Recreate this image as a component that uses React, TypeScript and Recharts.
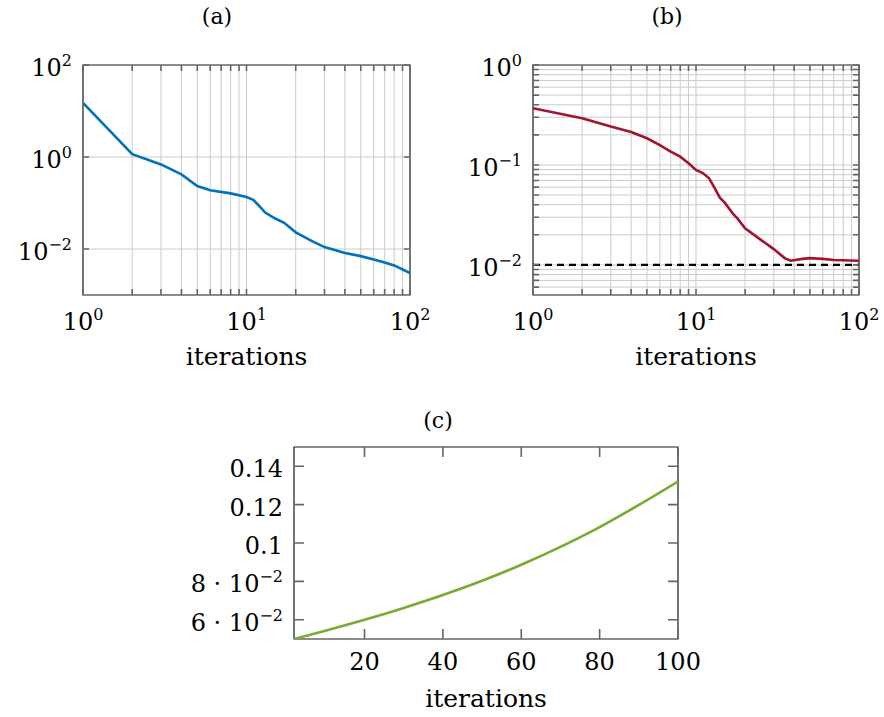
import { LineChart, Line, XAxis, YAxis, ReferenceLine, ReferenceArea } from 'recharts'

const FONT = '"DejaVu Serif", serif'
const FRAME = '#1a1a1a'
const TICK = '#666'
const GRID = '#cbcbcb'

// (a) error per iteration
const aIter = [1, 2, 3, 4, 5, 6, 8, 10, 11, 12, 13, 15, 17, 20, 25, 30, 40, 50, 60, 70, 80, 100]
const aVal = [15, 1.15, 0.69, 0.42, 0.234, 0.19, 0.162, 0.135, 0.117, 0.085, 0.062, 0.046, 0.037, 0.023, 0.015, 0.011, 0.0082, 0.007, 0.0059, 0.0051, 0.0044, 0.003]

// (b) relative residual, with target level
const bIter = [1, 2, 3, 4, 5, 6, 7, 8, 9, 10, 11, 12, 13, 14, 15, 17, 18, 20, 25, 30, 35, 38, 45, 50, 60, 70, 100]
const bVal = [0.369, 0.293, 0.242, 0.214, 0.185, 0.158, 0.136, 0.121, 0.104, 0.089, 0.083, 0.074, 0.059, 0.047, 0.042, 0.032, 0.029, 0.0233, 0.0178, 0.0144, 0.0117, 0.011, 0.0115, 0.0117, 0.0115, 0.0112, 0.011]
const bTarget = 0.01

// (c) step size
const cIter = [2, 10, 20, 30, 40, 50, 60, 70, 80, 90, 100]
const cVal = [0.05, 0.0543, 0.06, 0.0662, 0.0729, 0.0803, 0.0887, 0.098, 0.1083, 0.1198, 0.132]

// domains, ticks and grid
const logXDomain = [1, 100]
const aYDomain = [0.001, 100]
const bYDomain = [0.005, 1]
const cXDomain = [2, 100]
const cYDomain = [0.05, 0.15]
const logXTicks = [1, 2, 3, 4, 5, 6, 7, 8, 9, 10, 20, 30, 40, 50, 60, 70, 80, 90, 100]
const logXGrid = [2, 3, 4, 5, 6, 7, 8, 9, 10, 20, 30, 40, 50, 60, 70, 80, 90]
const logXLabelled = [1, 10, 100]
const aYTicks = [100, 1, 0.01]
const aYGrid = [1, 0.01]
const bYTicks = [1, 0.9, 0.8, 0.7, 0.6, 0.5, 0.4, 0.3, 0.2, 0.1, 0.09, 0.08, 0.07, 0.06, 0.05, 0.04, 0.03, 0.02, 0.01, 0.009, 0.008, 0.007, 0.006]
const bYLabelled = [1, 0.1, 0.01]
const cXTicks = [20, 40, 60, 80, 100]
const cYTicks = [0.06, 0.08, 0.1, 0.12, 0.14]
const cYLabels: [string, string][] = [['6 · 10', '−2'], ['8 · 10', '−2'], ['0.1', ''], ['0.12', ''], ['0.14', '']]

// plot boxes inside each chart svg
type Box = { w: number; h: number; left: number; right: number; top: number; bottom: number }
const boxA: Box = { w: 442, h: 380, left: 83, right: 410, top: 65, bottom: 295 }
const boxB: Box = { w: 442, h: 380, left: 91, right: 417, top: 65, bottom: 295 }
const boxC: Box = { w: 584, h: 327, left: 144, right: 528, top: 57, bottom: 249 }
const Y_W = 60
const X_H = 75
const marginOf = (b: Box) => ({ top: b.top, right: b.w - b.right, bottom: b.h - b.bottom - X_H, left: b.left - Y_W })

const pow10 = (v: number): [string, string] => ['10', String(Math.round(Math.log10(v))).replace('-', '−')]

function Label2({ x, y, anchor, parts }: any) {
  return (
    <text x={x} y={y} textAnchor={anchor} fontFamily={FONT} fontSize={24} fill="#000">
      {parts[0]}
      {parts[1] && <tspan dy={-10} fontSize={16}>{parts[1]}</tspan>}
    </text>
  )
}

// tick marks point inwards on both opposite sides, label only on the outer one
function XTick({ x, payload, box, labels, len, fmt, drop }: any) {
  const v = payload.value
  return (
    <g>
      <path d={`M${x},${box.bottom}V${box.bottom - len}M${x},${box.top}V${box.top + len}`} stroke={TICK} strokeWidth={1.6} fill="none" />
      {labels.includes(v) && <Label2 x={x} y={box.bottom + drop} anchor="middle" parts={fmt(v)} />}
    </g>
  )
}

function YTick({ y, payload, box, labels, len, fmt }: any) {
  const v = payload.value
  return (
    <g>
      <path d={`M${box.left},${y}H${box.left + len}M${box.right},${y}H${box.right - len}`} stroke={TICK} strokeWidth={1.6} fill="none" />
      {labels.includes(v) && <Label2 x={box.left - 11} y={y + 11} anchor="end" parts={fmt(v)} />}
    </g>
  )
}

const xLabel = (offset: number) => ({ value: 'iterations', position: 'insideBottom', offset, fill: '#000', fontSize: 25, fontFamily: FONT })

function ChartA() {
  const data = aIter.map((x, i) => ({ x, v: aVal[i] }))
  return (
    <LineChart width={boxA.w} height={boxA.h} data={data} margin={marginOf(boxA)}>
      {logXGrid.map(t => <ReferenceLine key={'x' + t} x={t} stroke={GRID} />)}
      {aYGrid.map(t => <ReferenceLine key={'y' + t} y={t} stroke={GRID} />)}
      <XAxis dataKey="x" type="number" scale="log" domain={logXDomain} allowDataOverflow ticks={logXTicks} interval={0}
        height={X_H} tickLine={false} axisLine={false} label={xLabel(5)}
        tick={(p: any) => <XTick {...p} box={boxA} labels={logXLabelled} len={6} fmt={pow10} drop={35} />} />
      <YAxis dataKey="v" type="number" scale="log" domain={aYDomain} allowDataOverflow ticks={aYTicks} interval={0}
        width={Y_W} tickLine={false} axisLine={false}
        tick={(p: any) => <YTick {...p} box={boxA} labels={aYTicks} len={6} fmt={pow10} />} />
      <Line dataKey="v" type="linear" stroke="#0072BD" strokeWidth={2.6} dot={false} isAnimationActive={false} />
      <ReferenceArea x1={logXDomain[0]} x2={logXDomain[1]} y1={aYDomain[0]} y2={aYDomain[1]} fill="none" fillOpacity={0} stroke={FRAME} strokeWidth={1.2} ifOverflow="visible" />
    </LineChart>
  )
}

function ChartB() {
  const data = bIter.map((x, i) => ({ x, v: bVal[i] }))
  return (
    <LineChart width={boxB.w} height={boxB.h} data={data} margin={marginOf(boxB)}>
      {logXGrid.map(t => <ReferenceLine key={'x' + t} x={t} stroke={GRID} />)}
      {bYTicks.slice(1).map(t => <ReferenceLine key={'y' + t} y={t} stroke={GRID} />)}
      <ReferenceLine y={bTarget} stroke="#000" strokeWidth={2.2} strokeDasharray="7 5" />
      <XAxis dataKey="x" type="number" scale="log" domain={logXDomain} allowDataOverflow ticks={logXTicks} interval={0}
        height={X_H} tickLine={false} axisLine={false} label={xLabel(5)}
        tick={(p: any) => <XTick {...p} box={boxB} labels={logXLabelled} len={6} fmt={pow10} drop={35} />} />
      <YAxis dataKey="v" type="number" scale="log" domain={bYDomain} allowDataOverflow ticks={bYTicks} interval={0}
        width={Y_W} tickLine={false} axisLine={false}
        tick={(p: any) => <YTick {...p} box={boxB} labels={bYLabelled} len={6} fmt={pow10} />} />
      <Line dataKey="v" type="linear" stroke="#A2142F" strokeWidth={2.6} dot={false} isAnimationActive={false} />
      <ReferenceArea x1={logXDomain[0]} x2={logXDomain[1]} y1={bYDomain[0]} y2={bYDomain[1]} fill="none" fillOpacity={0} stroke={FRAME} strokeWidth={1.2} ifOverflow="visible" />
    </LineChart>
  )
}

function ChartC() {
  const data = cIter.map((x, i) => ({ x, v: cVal[i] }))
  const fmtC = (v: number) => cYLabels[cYTicks.indexOf(v)]
  const fmtX = (v: number): [string, string] => [String(v), '']
  return (
    <LineChart width={boxC.w} height={boxC.h} data={data} margin={marginOf(boxC)}>
      <XAxis dataKey="x" type="number" domain={cXDomain} allowDataOverflow ticks={cXTicks} interval={0}
        height={X_H} tickLine={false} axisLine={false} label={xLabel(7)}
        tick={(p: any) => <XTick {...p} box={boxC} labels={cXTicks} len={10} fmt={fmtX} drop={31} />} />
      <YAxis dataKey="v" type="number" domain={cYDomain} allowDataOverflow ticks={cYTicks} interval={0}
        width={Y_W} tickLine={false} axisLine={false}
        tick={(p: any) => <YTick {...p} box={boxC} labels={cYTicks} len={10} fmt={fmtC} />} />
      <Line dataKey="v" type="monotone" stroke="#77AC30" strokeWidth={2.6} dot={false} isAnimationActive={false} />
      <ReferenceArea x1={cXDomain[0]} x2={cXDomain[1]} y1={cYDomain[0]} y2={cYDomain[1]} fill="none" fillOpacity={0} stroke={FRAME} strokeWidth={1.2} ifOverflow="visible" />
    </LineChart>
  )
}

export default function App() {
  const title = { fontFamily: FONT, fontSize: 22, fill: '#000', textAnchor: 'middle' as const }
  return (
    <div style={{ position: 'absolute', left: 0, top: 0, width: 884, height: 717, background: '#fff' }}>
      <div style={{ position: 'absolute', left: 0, top: 0 }}><ChartA /></div>
      <div style={{ position: 'absolute', left: 442, top: 0 }}><ChartB /></div>
      <div style={{ position: 'absolute', left: 150, top: 390 }}><ChartC /></div>
      <svg width={884} height={717} style={{ position: 'absolute', left: 0, top: 0, pointerEvents: 'none' }}>
        <text x={217} y={24} {...title}>(a)</text>
        <text x={667} y={24} {...title}>(b)</text>
        <text x={438} y={428} {...title}>(c)</text>
      </svg>
    </div>
  )
}
